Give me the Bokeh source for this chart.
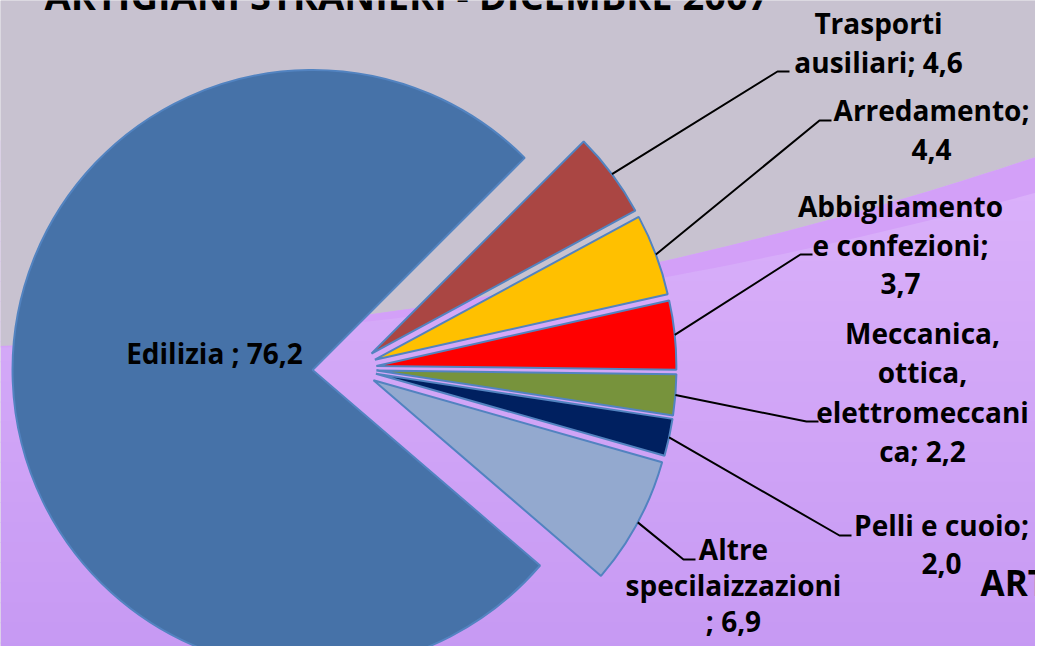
import numpy as np
from bokeh.plotting import figure
from bokeh.models import Range1d
from bokeh.core.properties import value
from bokeh.embed import file_html
from bokeh.resources import INLINE

# ---------------- data ----------------
categories = ["Edilizia", "Trasporti ausiliari", "Arredamento",
              "Abbigliamento e confezioni", "Meccanica, ottica, elettromeccanica",
              "Pelli e cuoio", "Altre specilaizzazioni"]
values = [76.2, 4.6, 4.4, 3.7, 2.2, 2.0, 6.9]
colors = ["#4672A8", "#AA4643", "#FFC000", "#FF0000", "#77933C", "#002060", "#93A9CF"]
label_templates = ["Edilizia ; {v}",
                   "Trasporti\nausiliari; {v}",
                   "Arredamento;\n{v}",
                   "Abbigliamento\ne confezioni;\n{v}",
                   "Meccanica,\nottica,\nelettromeccani\nca; {v}",
                   "Pelli e cuoio;\n{v}",
                   "Altre\nspecilaizzazioni\n; {v}"]
title_text = "ARTIGIANI STRANIERI - DICEMBRE 2007"
title_text2 = "ARTIGIANI STRANIERI"

# ---------------- layout (reference pixel space, 1:1) ----------------
W, H = 1035, 646          # visible part of the reference
HREF = 662
def Y(ypix):
    return HREF - ypix

FONT = "Open Sans"
LABEL_PX = 28
TEXT_SHIFT = 0.39         # rendered text sits this many em below its anchor
pie_cx, pie_cy = 351, 368
R = 300
edge_deg = 45.0
explode = [39, 25, 25, 25, 25, 25, 25]
label_x = [214, 878, 931, 900, 922, 941, 733]
label_base = [363, 33, 120, 216, 343, 535, 559]
line_gaps = [39, 39, 40, 39, 39.5, 39, 36]
elbows = [None, (777, 71), (819, 120), (800, 254), (806, 421), (839, 535), (683, 559)]
tail = 12

p = figure(width=W, height=H, output_backend="svg", toolbar_location=None,
           x_range=Range1d(0, W), y_range=Range1d(HREF - H, HREF),
           x_axis_type=None, y_axis_type=None, min_border=0,
           background_fill_color="#C8C2D0", border_fill_color="#C8C2D0",
           outline_line_color=None)
p.grid.visible = False

# ---------------- background ----------------
xs_bg = np.linspace(0, 1051, 60)
c1 = np.polyfit([0, 360, 750, 1051], [345, 317, 238, 152], 2)
c2 = np.polyfit([0, 360, 700, 1051], [347, 322, 270, 188], 2)
curve1 = np.polyval(c1, xs_bg)
curve2 = np.polyval(c2, xs_bg)

top_col = np.array([0xDC, 0xB2, 0xFB])
bot_col = np.array([0xC6, 0x99, 0xF3])
edges = np.linspace(140, HREF, 27)
for k in range(len(edges) - 1):
    t = (edges[k] - 140) / (HREF - 140)
    col = (top_col * (1 - t) + bot_col * t).astype(int)
    p.quad(left=0, right=1051, top=Y(edges[k]), bottom=Y(edges[k + 1] + 1),
           fill_color="#%02x%02x%02x" % tuple(col), line_color=None)
gx = list(xs_bg) + [1051, 0]
gy = list(Y(curve1)) + [Y(0), Y(0)]
p.patch(gx, gy, fill_color="#C8C2D0", line_color=None)
bx = list(xs_bg) + list(xs_bg[::-1])
by = list(Y(curve1)) + list(Y(curve2)[::-1])
p.patch(bx, by, fill_color="#D3A0F8", line_color=None)

# ---------------- pie ----------------
total = sum(values)
spans = [360.0 * v / total for v in values]
start_cw = edge_deg + spans[0]
cum = 0.0
mids = []
for i, (v, s) in enumerate(zip(values, spans)):
    hi = start_cw - cum
    lo = hi - s
    cum += s
    mid = np.radians((hi + lo) / 2.0)
    mids.append(mid)
    cx = pie_cx + explode[i] * np.cos(mid)
    cy = Y(pie_cy) + explode[i] * np.sin(mid)
    p.wedge(x=cx, y=cy, radius=R, start_angle=lo, end_angle=hi,
            start_angle_units="deg", end_angle_units="deg", direction="anticlock",
            fill_color=colors[i], line_color="#5283C0", line_width=2)

# ---------------- leader lines ----------------
for i, el in enumerate(elbows):
    if el is None:
        continue
    mid = mids[i]
    sx = pie_cx + (explode[i] + R) * np.cos(mid)
    sy = Y(pie_cy) + (explode[i] + R) * np.sin(mid)
    p.line([sx, el[0], el[0] + tail], [sy, Y(el[1]), Y(el[1])],
           line_color="black", line_width=2)

# ---------------- labels ----------------
def fmt(v):
    return ("%.1f" % v).replace(".", ",")

for i, tpl in enumerate(label_templates):
    lines = tpl.format(v=fmt(values[i])).split("\n")
    for j, ln in enumerate(lines):
        base = label_base[i] + j * line_gaps[i] - TEXT_SHIFT * LABEL_PX
        p.text(x=[label_x[i]], y=[Y(base)], text=[ln],
               text_font=value(FONT), text_font_style="bold",
               text_font_size="%dpx" % LABEL_PX,
               text_align="center", text_baseline="alphabetic", text_color="black")

# ---------------- titles (partly cut off, as in the reference) ----------------
p.text(x=[44], y=[Y(9 - TEXT_SHIFT * 38)], text=[title_text], text_font=value(FONT),
       text_font_style="bold", text_font_size="38px", text_align="left",
       text_baseline="alphabetic", text_color="black")
p.text(x=[980], y=[Y(596 - TEXT_SHIFT * 35)], text=[title_text2], text_font=value(FONT),
       text_font_style="bold", text_font_size="35px", text_align="left",
       text_baseline="alphabetic", text_color="black")

open("out.html", "w").write(file_html(p, INLINE))
